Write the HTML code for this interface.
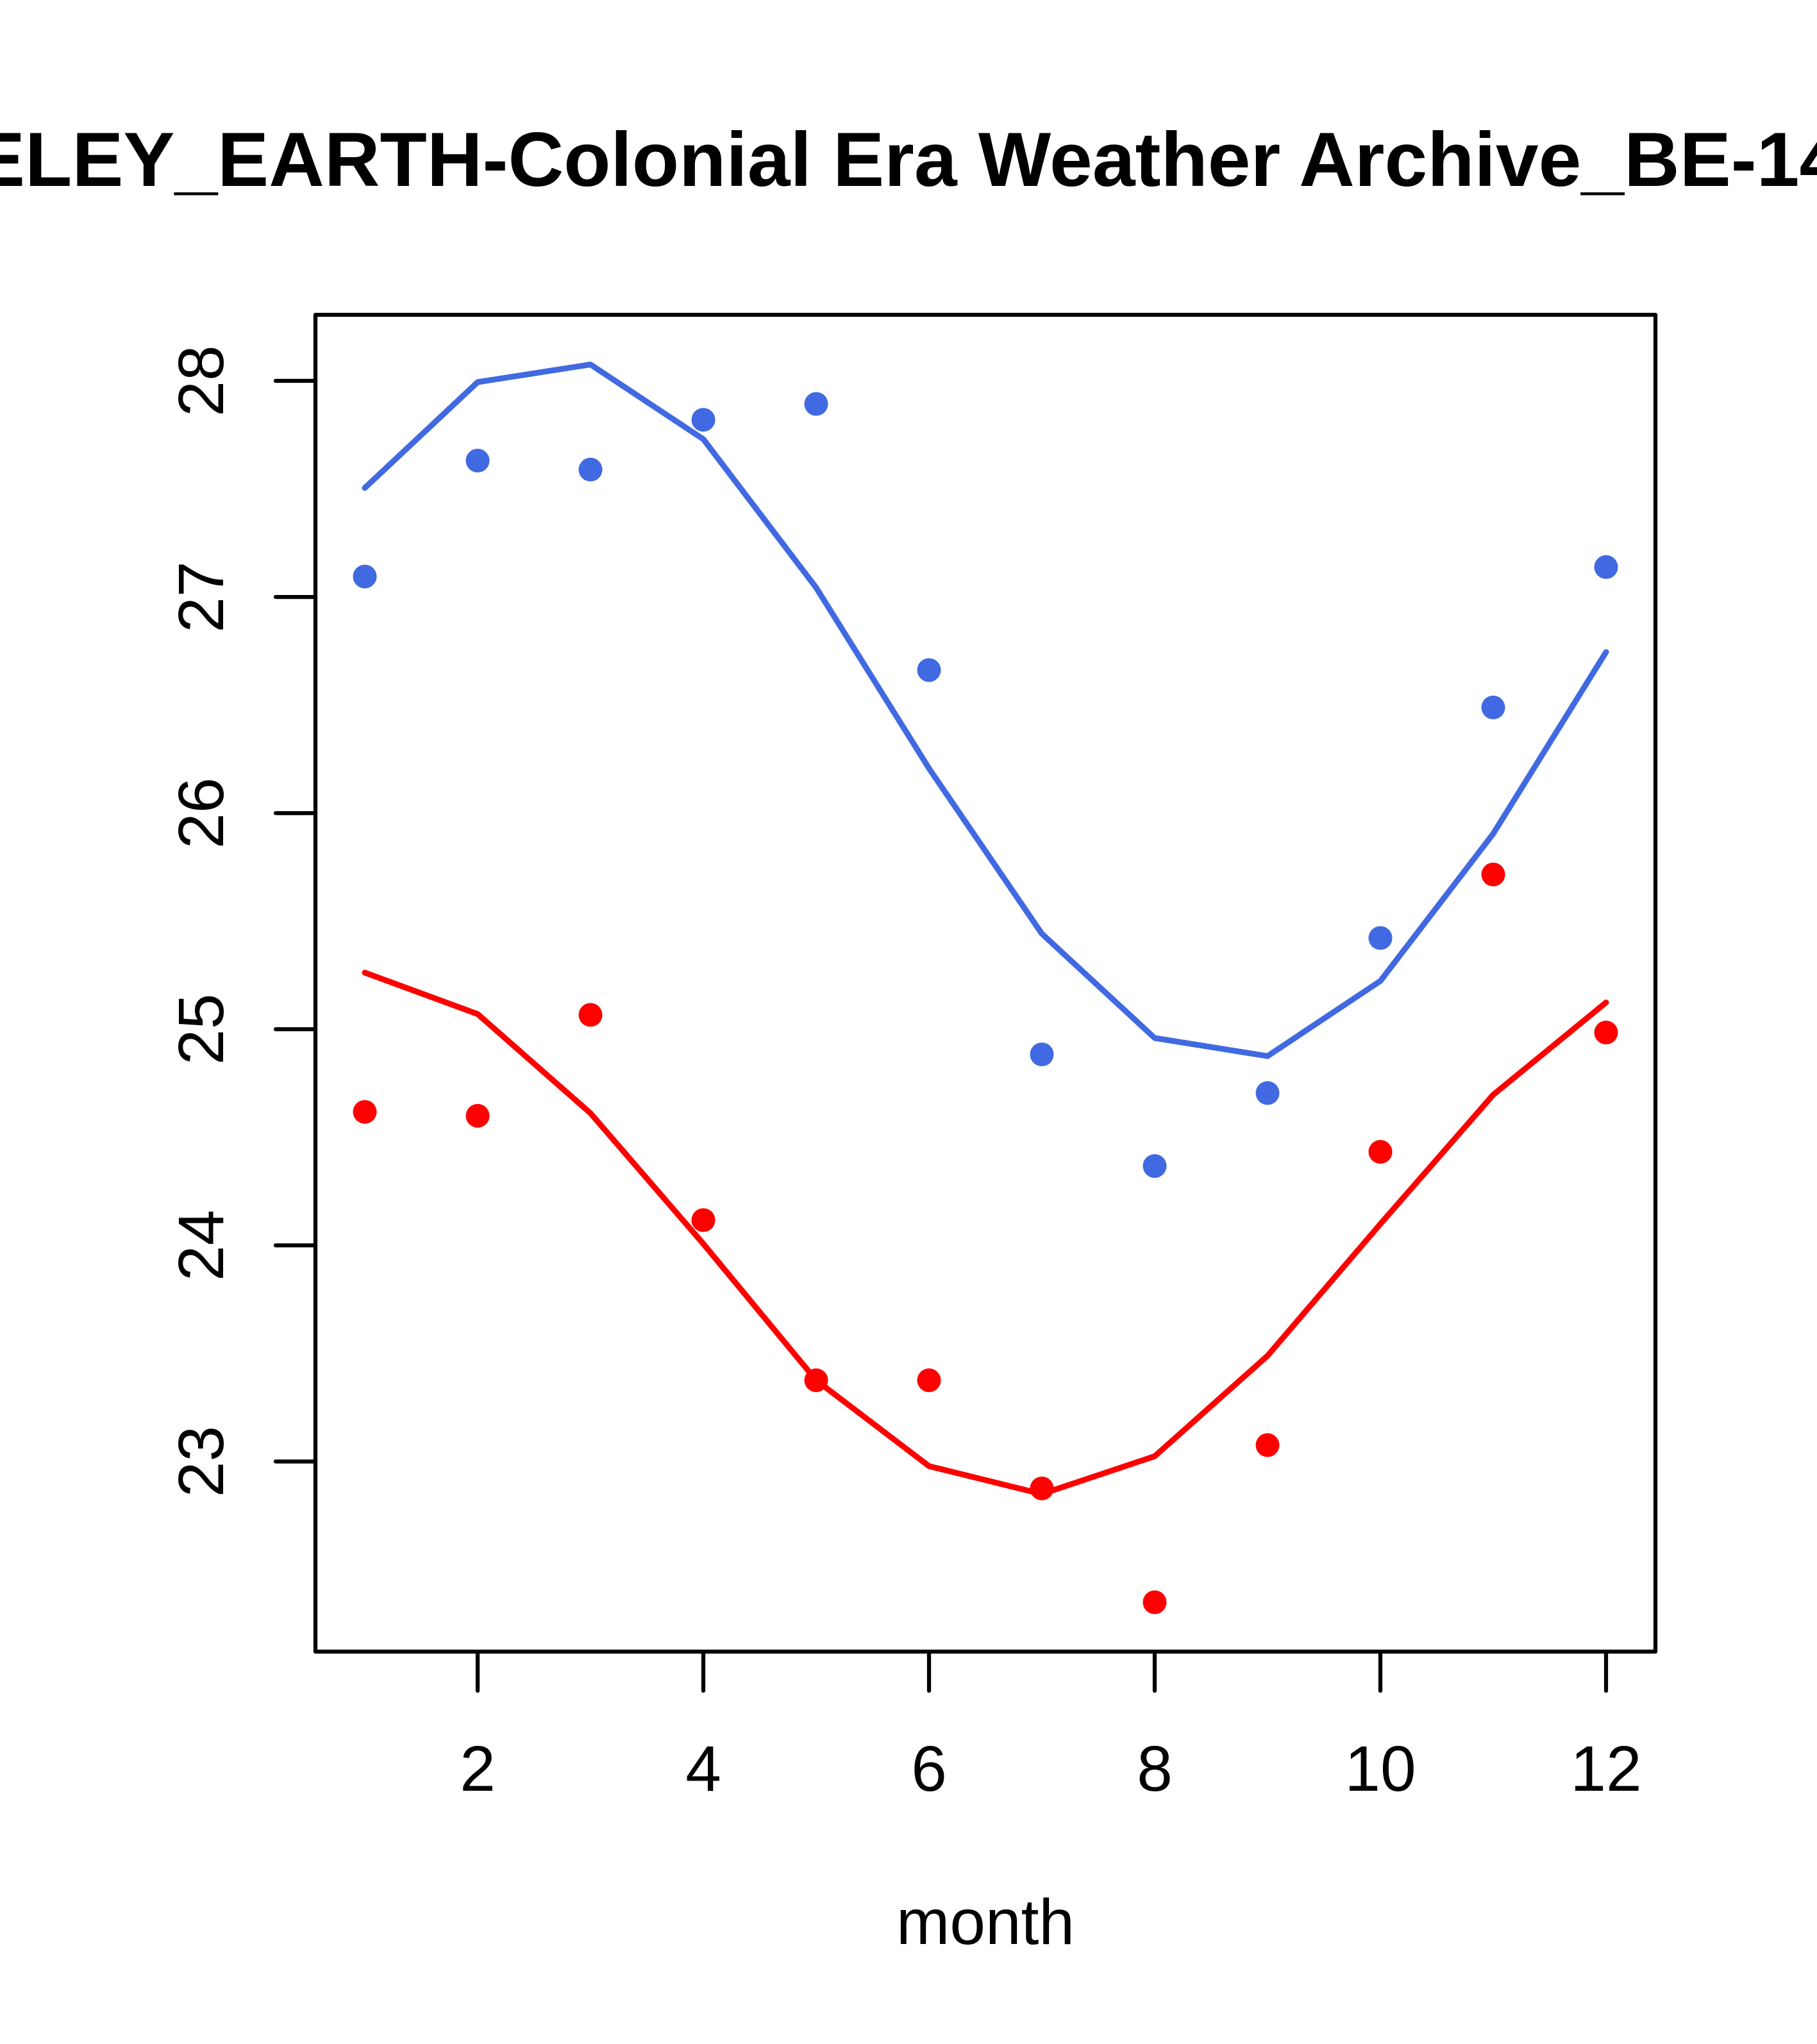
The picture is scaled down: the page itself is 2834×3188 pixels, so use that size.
<!DOCTYPE html>
<html>
<head>
<meta charset="utf-8">
<style>
  html, body { margin: 0; padding: 0; background: #ffffff; }
  body { width: 2834px; height: 3188px; overflow: hidden; }
  svg { display: block; }
  text { font-family: "Liberation Sans", Arial, Helvetica, sans-serif; fill: #000; }
</style>
</head>
<body>
<svg width="2834" height="3188" viewBox="0 0 2834 3188" xmlns="http://www.w3.org/2000/svg">
  <rect x="0" y="0" width="2834" height="3188" fill="#ffffff"/>

  <!-- Title -->
  <text x="-381" y="290" font-size="120" font-weight="bold">BERKELEY_EARTH-Colonial Era Weather Archive_BE-1400000000</text>

  <!-- Plot box -->
  <rect x="492" y="491" width="2090" height="2085" fill="none" stroke="#000" stroke-width="6.25" stroke-linejoin="round"/>

  <!-- Y ticks -->
  <g stroke="#000" stroke-width="6.25" stroke-linecap="round">
    <line x1="430" y1="594" x2="492" y2="594"/>
    <line x1="430" y1="931.1" x2="492" y2="931.1"/>
    <line x1="430" y1="1268.2" x2="492" y2="1268.2"/>
    <line x1="430" y1="1605.3" x2="492" y2="1605.3"/>
    <line x1="430" y1="1942.4" x2="492" y2="1942.4"/>
    <line x1="430" y1="2279.5" x2="492" y2="2279.5"/>
  </g>
  <!-- Y tick labels -->
  <g font-size="100" text-anchor="middle">
    <text transform="translate(348,594) rotate(-90)">28</text>
    <text transform="translate(348,931.1) rotate(-90)">27</text>
    <text transform="translate(348,1268.2) rotate(-90)">26</text>
    <text transform="translate(348,1605.3) rotate(-90)">25</text>
    <text transform="translate(348,1942.4) rotate(-90)">24</text>
    <text transform="translate(348,2279.5) rotate(-90)">23</text>
  </g>

  <!-- X ticks -->
  <g stroke="#000" stroke-width="6.25" stroke-linecap="round">
    <line x1="745" y1="2576" x2="745" y2="2637"/>
    <line x1="1097" y1="2576" x2="1097" y2="2637"/>
    <line x1="1449" y1="2576" x2="1449" y2="2637"/>
    <line x1="1801" y1="2576" x2="1801" y2="2637"/>
    <line x1="2153" y1="2576" x2="2153" y2="2637"/>
    <line x1="2505" y1="2576" x2="2505" y2="2637"/>
  </g>
  <!-- X tick labels -->
  <g font-size="100" text-anchor="middle">
    <text x="745" y="2793">2</text>
    <text x="1097" y="2793">4</text>
    <text x="1449" y="2793">6</text>
    <text x="1801" y="2793">8</text>
    <text x="2153" y="2793">10</text>
    <text x="2505" y="2793">12</text>
  </g>

  <!-- X axis title -->
  <text x="1537" y="3032" font-size="100" text-anchor="middle">month</text>

  <!-- Blue line -->
  <polyline fill="none" stroke="#4169E1" stroke-width="9" stroke-linecap="round" stroke-linejoin="round"
    points="569,761 745,596 921,568.5 1097,685 1273,916.6 1449,1198.5 1625,1456.3 1801,1619 1977,1647.2 2153,1530 2329,1300.3 2505,1017"/>

  <!-- Red line -->
  <polyline fill="none" stroke="#FF0000" stroke-width="9" stroke-linecap="round" stroke-linejoin="round"
    points="569,1517 745,1581.6 921,1736.3 1097,1940 1273,2152.8 1449,2286.7 1625,2330.2 1801,2271.3 1977,2114.6 2153,1909 2329,1707.5 2505,1563.5"/>

  <!-- Blue points -->
  <g fill="#4169E1">
    <circle cx="569" cy="899.2" r="18.5"/>
    <circle cx="745" cy="718.4" r="18.5"/>
    <circle cx="921" cy="732.4" r="18.5"/>
    <circle cx="1097" cy="654.7" r="18.5"/>
    <circle cx="1273" cy="630" r="18.5"/>
    <circle cx="1449" cy="1045.1" r="18.5"/>
    <circle cx="1625" cy="1644.5" r="18.5"/>
    <circle cx="1801" cy="1818.6" r="18.5"/>
    <circle cx="1977" cy="1704.8" r="18.5"/>
    <circle cx="2153" cy="1463" r="18.5"/>
    <circle cx="2329" cy="1103.4" r="18.5"/>
    <circle cx="2505" cy="884.4" r="18.5"/>
  </g>

  <!-- Red points -->
  <g fill="#FF0000">
    <circle cx="569" cy="1734.2" r="18.5"/>
    <circle cx="745" cy="1740.3" r="18.5"/>
    <circle cx="921" cy="1582.9" r="18.5"/>
    <circle cx="1097" cy="1903" r="18.5"/>
    <circle cx="1273" cy="2152.8" r="18.5"/>
    <circle cx="1449" cy="2152.8" r="18.5"/>
    <circle cx="1625" cy="2321.5" r="18.5"/>
    <circle cx="1801" cy="2499" r="18.5"/>
    <circle cx="1977" cy="2253.9" r="18.5"/>
    <circle cx="2153" cy="1796.5" r="18.5"/>
    <circle cx="2329" cy="1363.9" r="18.5"/>
    <circle cx="2505" cy="1610.4" r="18.5"/>
  </g>
</svg>
</body>
</html>
